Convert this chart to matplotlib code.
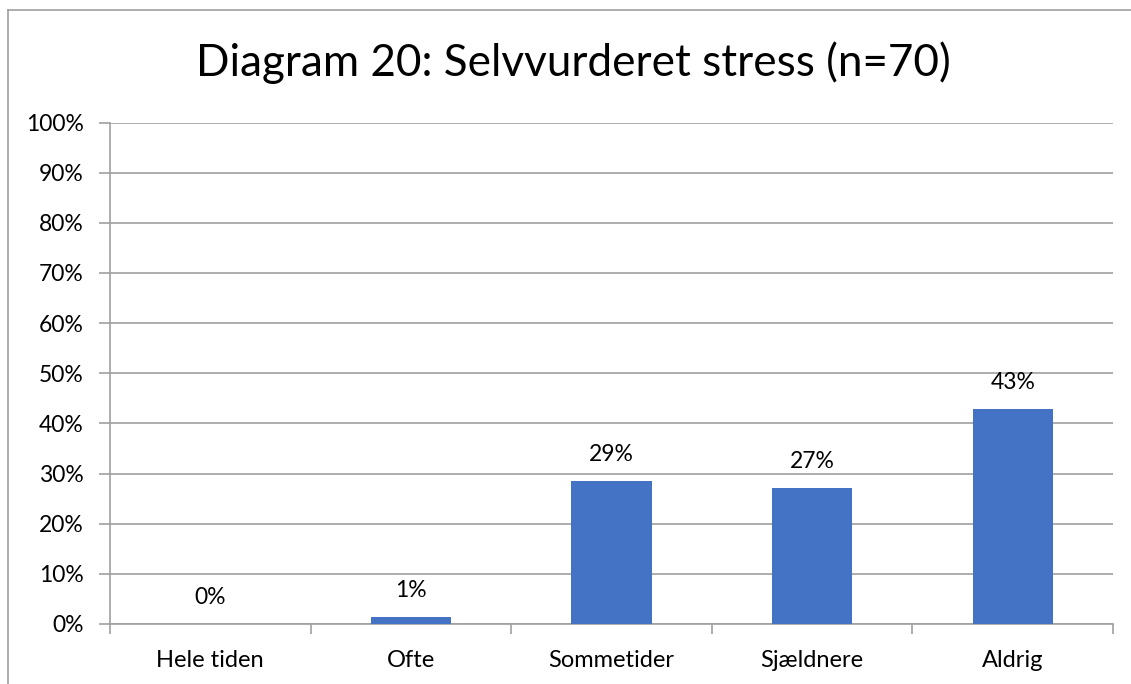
import matplotlib
matplotlib.use("Agg")
import matplotlib.pyplot as plt
import numpy as np
from matplotlib.ticker import FixedLocator, PercentFormatter

categories = ["Hele tiden", "Ofte", "Sommetider", "Sjældnere", "Aldrig"]
values = [0.0, 1.43, 28.57, 27.14, 42.86]
labels = ["0%", "1%", "29%", "27%", "43%"]
title = "Diagram 20: Selvvurderet stress (n=70)"

plt.rcParams['font.family'] = ['Lato', 'DejaVu Sans']

fig = plt.figure(figsize=(11.31, 6.84), dpi=100)
ax = fig.add_axes([110/1131, 1-624/684, (1113-110)/1131, (624-122.5)/684])

x = np.arange(len(categories))
ax.bar(x, values, width=0.4, color="#4472C4", zorder=3)
for xi, v, lab in zip(x, values, labels):
    ax.annotate(lab, (xi, v), xytext=(0, 19), textcoords="offset points",
                ha="center", va="center", fontsize=16.5, color="#000000")

ax.set_xlim(-0.5, len(categories) - 0.5)
ax.set_ylim(0, 100)
ax.yaxis.set_major_locator(FixedLocator(np.arange(0, 101, 10)))
ax.yaxis.set_major_formatter(PercentFormatter(decimals=0))
ax.grid(axis="y", color="#a0a0a0", linewidth=1.2, zorder=0)

ax.set_xticks(x)
ax.set_xticklabels(categories)
ax.xaxis.set_minor_locator(FixedLocator(np.arange(-0.5, len(categories), 1.0)))
ax.tick_params(axis="x", which="major", length=0, pad=19, labelsize=17)
ax.tick_params(axis="x", which="minor", length=7, width=1.2, color="#a0a0a0")
ax.tick_params(axis="y", length=8, width=1.2, color="#a0a0a0", pad=11, labelsize=16.5)

for side in ["top", "right"]:
    ax.spines[side].set_visible(False)
for side in ["left", "bottom"]:
    ax.spines[side].set_color("#a0a0a0")
    ax.spines[side].set_linewidth(1.2)

fig.text(573/1131, 1-63/684, title, ha="center", va="center", fontsize=31.7)

# chart border (partially cut off)
fig.add_artist(plt.Line2D([8/1131, 1], [1-10/684, 1-10/684], transform=fig.transFigure, color="#a0a0a0", linewidth=1.2))
fig.add_artist(plt.Line2D([8/1131, 8/1131], [0, 1-10/684], transform=fig.transFigure, color="#a0a0a0", linewidth=1.2))

fig.savefig("out.png", dpi=100)
